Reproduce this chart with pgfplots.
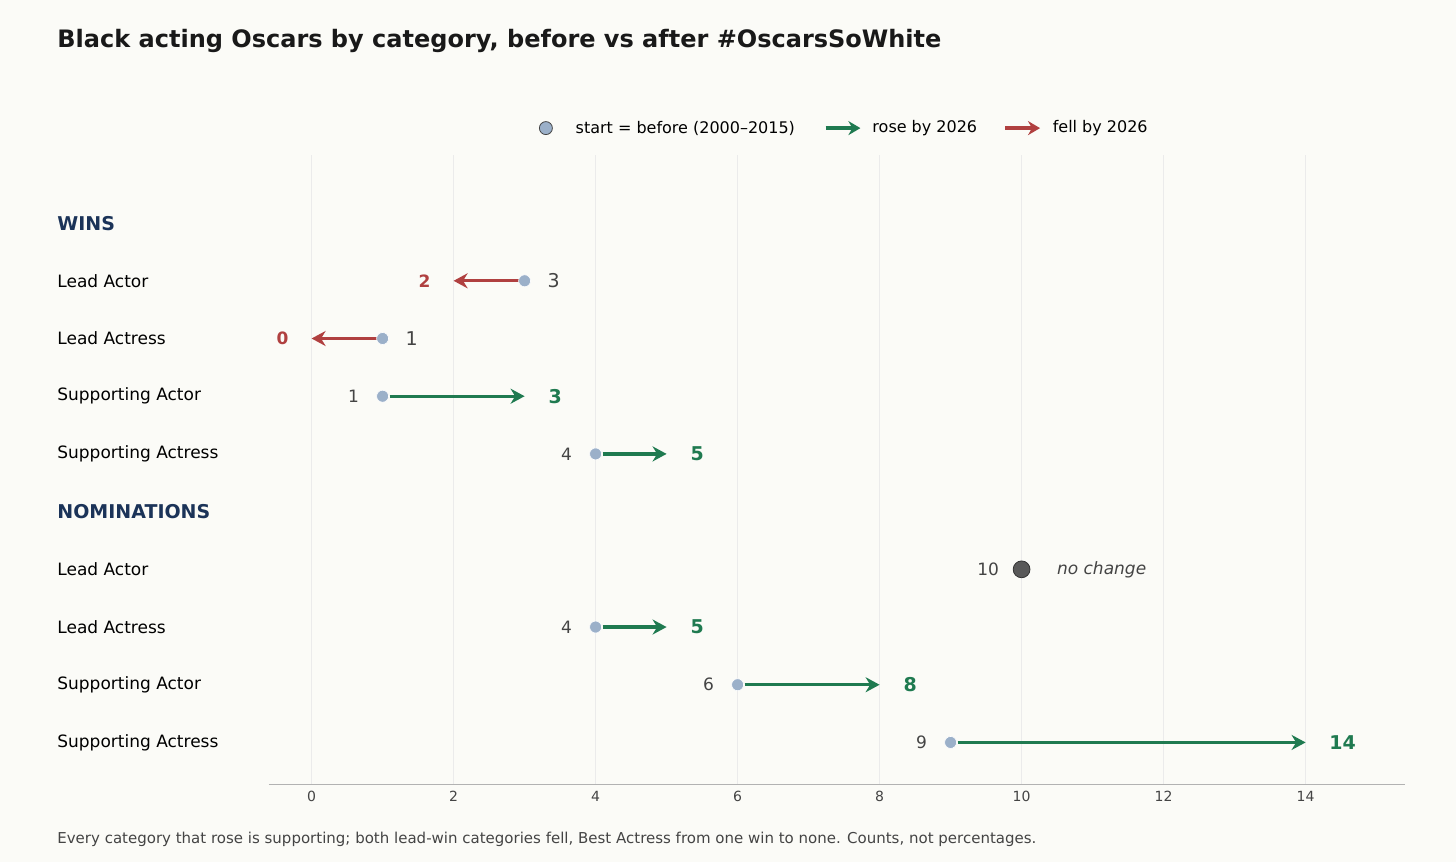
\documentclass[border=0pt]{standalone}
\usepackage{pgfplots}
\pgfplotsset{compat=1.18}
\usepackage{fontspec}
\setmainfont{DejaVu Sans}
\usetikzlibrary{arrows.meta}
\definecolor{bg}{HTML}{FBFBF7}
\definecolor{grn}{HTML}{1F7A50}
\definecolor{red}{HTML}{B04040}
\definecolor{navy}{HTML}{1B3358}
\definecolor{dot}{HTML}{9BB0C9}
\definecolor{txt}{HTML}{444444}
\newcommand{\fs}[1]{\fontsize{#1}{#1}\selectfont}
\begin{document}
\begin{tikzpicture}
\fill[bg] (-134.5pt,-39pt) rectangle (593.5pt,392pt);
\begin{axis}[scale only axis, width=568pt, height=314.5pt,
 xmin=-0.6, xmax=15.4, ymin=-9.72, ymax=1.18, clip=false,
 axis x line*=bottom, hide y axis, axis line style={draw=black!30},
 xtick={0,2,...,14}, xmajorgrids, grid style={black!8},
 major tick length=0pt,
 ticklabel style={font=\fs{7}, text=txt}, /pgf/number format/assume math mode=true]
\newcommand{\lab}[2]{\node[anchor=west,font=\fs{8.5}] at (axis cs:-3.68,#1) {#2};}
\node[anchor=west,font=\fs{9.5}\bfseries,text=navy] at (axis cs:-3.68,0) {WINS};
\node[anchor=west,font=\fs{9.5}\bfseries,text=navy] at (axis cs:-3.68,-5) {NOMINATIONS};
\lab{-1}{Lead Actor}\lab{-2}{Lead Actress}\lab{-3}{Supporting Actor}\lab{-4}{Supporting Actress}
\lab{-6}{Lead Actor}\lab{-7}{Lead Actress}\lab{-8}{Supporting Actor}\lab{-9}{Supporting Actress}
\node[anchor=west,font=\fs{12}\bfseries,text=black!90] at (axis cs:-3.68,3.15) {Black acting Oscars by category, before vs after \#OscarsSoWhite};
\node[anchor=west,font=\fs{7.5},text=txt] at (axis cs:-3.68,-10.68) {Every category that rose is supporting; both lead-win categories fell, Best Actress from one win to none. Counts, not percentages.};
% legend
\node[circle,draw=txt,fill=dot,inner sep=0pt,minimum size=6.5pt] at (axis cs:3.30,1.646) {};
\node[anchor=west,font=\fs{8}] at (axis cs:3.62,1.646) {start = before (2000–2015)};
\draw[grn,line width=2pt,-{Stealth[length=6pt,width=7pt]}] (axis cs:7.24,1.646) -- (axis cs:7.73,1.646);
\node[anchor=west,font=\fs{8}] at (axis cs:7.80,1.646) {rose by 2026};
\draw[red,line width=2pt,-{Stealth[length=6pt,width=7pt]}] (axis cs:9.77,1.646) -- (axis cs:10.26,1.646);
\node[anchor=west,font=\fs{8}] at (axis cs:10.34,1.646) {fell by 2026};
% arrows
\pgfplotsset{arr/.style={line width=1.6pt,-{Stealth[length=7pt,width=7.5pt]}}}
\addplot[arr,red] coordinates {(2.92,-1) (2.0,-1)};
\addplot[arr,red] coordinates {(0.92,-2) (0.0,-2)};
\addplot[arr,grn] coordinates {(1.1,-3) (3.0,-3)};
\addplot[arr,grn] coordinates {(4.1,-4) (5.0,-4)};
\addplot[arr,grn] coordinates {(4.1,-7) (5.0,-7)};
\addplot[arr,grn] coordinates {(6.1,-8) (8.0,-8)};
\addplot[arr,grn] coordinates {(9.1,-9) (14.0,-9)};
\addplot[only marks,mark=*,mark size=3pt,mark options={fill=dot,draw=white,line width=0.3pt}] coordinates {(3,-1)(1,-2)(1,-3)(4,-4)(4,-7)(6,-8)(9,-9)};
\addplot[only marks,mark=*,mark size=4.2pt,mark options={fill=black!65,draw=black!80,line width=0.4pt}] coordinates {(10,-6)};
% value labels
\node[font=\fs{9.5},text=txt] at (axis cs:3.41,-1) {3};
\node[font=\fs{8.5}\bfseries,text=red] at (axis cs:1.59,-1) {2};
\node[font=\fs{9.5},text=txt] at (axis cs:1.41,-2) {1};
\node[font=\fs{8.5}\bfseries,text=red] at (axis cs:-0.41,-2) {0};
\node[font=\fs{8.5},text=txt] at (axis cs:0.59,-3) {1};
\node[font=\fs{9.5}\bfseries,text=grn] at (axis cs:3.43,-3) {3};
\node[font=\fs{8.5},text=txt] at (axis cs:3.59,-4) {4};
\node[font=\fs{9.5}\bfseries,text=grn] at (axis cs:5.43,-4) {5};
\node[font=\fs{8.5},text=txt] at (axis cs:3.59,-7) {4};
\node[font=\fs{9.5}\bfseries,text=grn] at (axis cs:5.43,-7) {5};
\node[font=\fs{8.5},text=txt] at (axis cs:5.59,-8) {6};
\node[font=\fs{9.5}\bfseries,text=grn] at (axis cs:8.43,-8) {8};
\node[font=\fs{8.5},text=txt] at (axis cs:8.59,-9) {9};
\node[font=\fs{9.5}\bfseries,text=grn] at (axis cs:14.52,-9) {14};
\node[font=\fs{8.5},text=txt] at (axis cs:9.53,-6) {10};
\node[anchor=west,font=\fs{8.5}\itshape,text=txt] at (axis cs:10.40,-6) {no change};
\end{axis}
\end{tikzpicture}
\end{document}
